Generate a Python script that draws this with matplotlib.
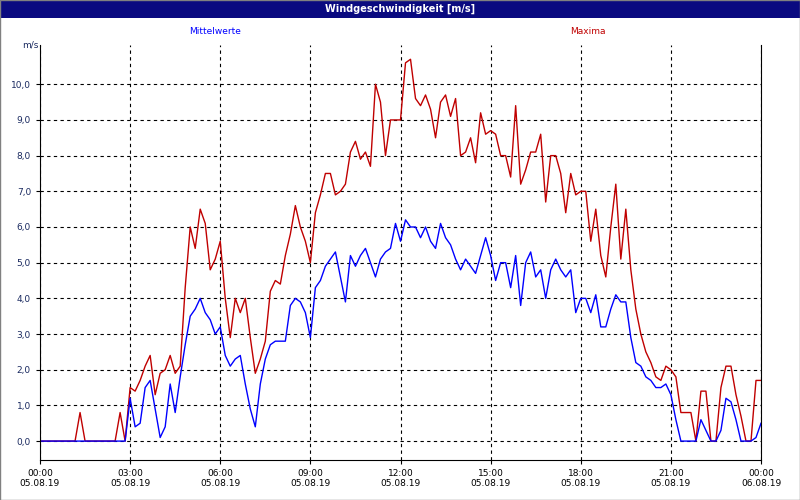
import matplotlib.pyplot as plt
import numpy as np

# 10-minute values, 05.08.19 00:00 .. 06.08.19 00:00
maxima = [0, 0, 0, 0, 0, 0, 0, 0, 0.8, 0, 0, 0, 0, 0, 0, 0, 0.8, 0,
          1.5, 1.4, 1.7, 2.1, 2.4, 1.3, 1.9, 2.0, 2.4, 1.9, 2.1, 4.3,
          6.0, 5.4, 6.5, 6.1, 4.8, 5.1, 5.6, 4.0, 2.9, 4.0, 3.6, 4.0,
          2.9, 1.9, 2.3, 2.8, 4.2, 4.5, 4.4, 5.2, 5.8, 6.6, 6.0, 5.6,
          5.0, 6.4, 6.9, 7.5, 7.5, 6.9, 7.0, 7.2, 8.1, 8.4, 7.9, 8.1,
          7.7, 10.0, 9.5, 8.0, 9.0, 9.0, 9.0, 10.6, 10.7, 9.6, 9.4, 9.7,
          9.3, 8.5, 9.5, 9.7, 9.1, 9.6, 8.0, 8.1, 8.5, 7.8, 9.2, 8.6,
          8.7, 8.6, 8.0, 8.0, 7.4, 9.4, 7.2, 7.6, 8.1, 8.1, 8.6, 6.7,
          8.0, 8.0, 7.5, 6.4, 7.5, 6.9,
          7.0, 7.0, 5.6, 6.5, 5.2, 4.6, 6.0, 7.2, 5.1, 6.5, 4.8, 3.7,
          3.0, 2.5, 2.2, 1.8, 1.7, 2.1, 2.0, 1.8, 0.8, 0.8, 0.8, 0,
          1.4, 1.4, 0, 0, 1.5, 2.1, 2.1, 1.3, 0.7, 0, 0, 1.7, 1.7]
mittel = [0] * 18 + [
          1.2, 0.4, 0.5, 1.5, 1.7, 0.9, 0.1, 0.4, 1.6, 0.8, 1.8, 2.7,
          3.5, 3.7, 4.0, 3.6, 3.4, 3.0, 3.2, 2.4, 2.1, 2.3, 2.4, 1.6,
          0.9, 0.4, 1.6, 2.3, 2.7, 2.8, 2.8, 2.8, 3.8, 4.0, 3.9, 3.6,
          2.9, 4.3, 4.5, 4.9, 5.1, 5.3, 4.6, 3.9, 5.2, 4.9, 5.2, 5.4,
          5.0, 4.6, 5.1, 5.3, 5.4, 6.1, 5.6, 6.2, 6.0, 6.0, 5.7, 6.0,
          5.6, 5.4, 6.1, 5.7, 5.5, 5.1, 4.8, 5.1, 4.9, 4.7, 5.2, 5.7,
          5.2, 4.5, 5.0, 5.0, 4.3, 5.2, 3.8, 5.0, 5.3, 4.6, 4.8, 4.0,
          4.8, 5.1, 4.8, 4.6, 4.8, 3.6,
          4.0, 4.0, 3.6, 4.1, 3.2, 3.2, 3.7, 4.1, 3.9, 3.9, 2.9, 2.2,
          2.1, 1.8, 1.7, 1.5, 1.5, 1.6, 1.3, 0.6, 0, 0, 0, 0,
          0.6, 0.3, 0, 0, 0.3, 1.2, 1.1, 0.6, 0, 0, 0, 0.1, 0.5]
hours = np.arange(len(maxima)) / 6.0
tick_hours = [0, 3, 6, 9, 12, 15, 18, 21, 24]
tick_labels = ['00:00\n05.08.19', '03:00\n05.08.19', '06:00\n05.08.19',
               '09:00\n05.08.19', '12:00\n05.08.19', '15:00\n05.08.19',
               '18:00\n05.08.19', '21:00\n05.08.19', '00:00\n06.08.19']
y_ticks = np.arange(0, 11, 1)

plt.rcParams['font.family'] = 'DejaVu Sans'
fig = plt.figure(figsize=(8, 5), dpi=100)

# title bar
bar = fig.add_axes([0, 1 - 18 / 500, 1, 18 / 500])
bar.set_facecolor('#0a0a80')
bar.set_xticks([]); bar.set_yticks([])
for s in bar.spines.values():
    s.set_visible(False)
bar.text(0.5, 0.5, 'Windgeschwindigkeit [m/s]', color='white', fontsize=7,
         fontweight='bold', ha='center', va='center', transform=bar.transAxes)

ax = fig.add_axes([40 / 800, 40 / 500, 721 / 800, 415 / 500])
ax.plot(hours, maxima, color='#c00000', lw=1)
ax.plot(hours, mittel, color='#0000ff', lw=1)
ax.set_xlim(0, 24)
ax.set_ylim(-0.53, 11.1)
ax.set_xticks(tick_hours)
ax.set_xticklabels(tick_labels, fontsize=6.5)
ax.set_yticks(y_ticks)
ax.set_yticklabels([f'{v:.1f}'.replace('.', ',') for v in y_ticks],
                   fontsize=6.5, color='#1a2a60')
ax.tick_params(length=3, width=0.8)
ax.grid(True, color='black', linestyle=(0, (3, 3)), lw=0.8)
ax.spines['top'].set_visible(False)

fig.text(215 / 800, 1 - 31 / 500, 'Mittelwerte', color='#0000ff', fontsize=6.5,
         ha='center', va='center')
fig.text(588 / 800, 1 - 31 / 500, 'Maxima', color='#c00000', fontsize=6.5,
         ha='center', va='center')
fig.text(30 / 800, 1 - 45 / 500, 'm/s', color='#1a2a60', fontsize=6.5,
         ha='center', va='center')

fig.add_artist(plt.Rectangle((0, 0), 1, 1, transform=fig.transFigure,
                             fill=False, edgecolor='#808080', lw=1))
fig.savefig('out.png', dpi=100)
